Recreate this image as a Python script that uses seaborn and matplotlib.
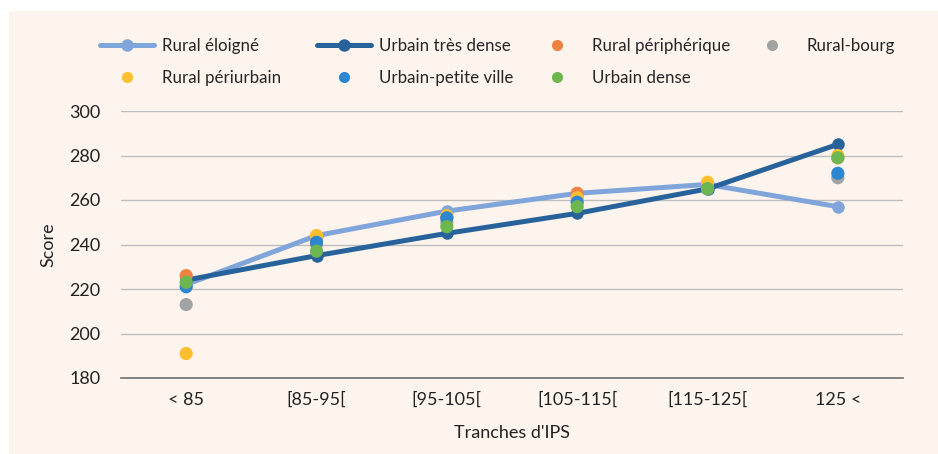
import pandas as pd
import seaborn as sns
import matplotlib.pyplot as plt
from matplotlib.patches import Rectangle
from matplotlib.lines import Line2D

# tranches d'IPS
tranches = ['< 85', '[85-95[', '[95-105[', '[105-115[', '[115-125[', '125 <']

# scores par type de territoire
rural_eloigne = [222, 244, 255, 263, 267, 257]
urbain_tres_dense = [224, 235, 245, 254, 265, 285]
rural_peripherique = [226, 241, 252, 263, 266, 279]
rural_bourg = [213, 240, 250, 261, 266, 270]
rural_periurbain = [191, 244, 253, 261, 268, 280]
urbain_petite_ville = [221, 241, 252, 259, 265, 272]
urbain_dense = [223, 237, 248, 257, 265, 279]

line_series = {'Rural éloigné': rural_eloigne, 'Urbain très dense': urbain_tres_dense}
point_series = {
    'Rural périphérique': rural_peripherique,
    'Rural-bourg': rural_bourg,
    'Rural périurbain': rural_periurbain,
    'Urbain-petite ville': urbain_petite_ville,
    'Urbain dense': urbain_dense,
}
colors = {
    'Rural éloigné': '#80A5DA',
    'Urbain très dense': '#27639A',
    'Rural périphérique': '#EF8240',
    'Rural-bourg': '#A3A3A3',
    'Rural périurbain': '#FDBF2D',
    'Urbain-petite ville': '#2C86D0',
    'Urbain dense': '#6DB650',
}

def to_long(series):
    rows = []
    for name, vals in series.items():
        for t, v in zip(tranches, vals):
            rows.append({'Tranche': t, 'Score': v, 'Territoire': name})
    return pd.DataFrame(rows)

lines_df = to_long(line_series)
points_df = to_long(point_series)

sns.set_style('white')
plt.rcParams['font.family'] = ['Lato', 'DejaVu Sans']
bg = '#FDF4EE'

fig = plt.figure(figsize=(9.38, 4.54), dpi=100, facecolor='white')
fig.patches.append(Rectangle((9 / 938, 0), 1, (454 - 11) / 454, transform=fig.transFigure,
                             facecolor=bg, edgecolor='none', zorder=-10))
ax = fig.add_axes([121 / 938, 1 - 378 / 454, (903 - 121) / 938, (378 - 111) / 454])
ax.set_facecolor(bg)

sns.lineplot(data=lines_df, x='Tranche', y='Score', hue='Territoire', palette=colors,
             linewidth=3.6, marker='o', markersize=9, markeredgewidth=0,
             sort=False, legend=False, ax=ax, zorder=2)
sns.scatterplot(data=points_df, x='Tranche', y='Score', hue='Territoire', palette=colors,
                s=90, linewidth=0, legend=False, ax=ax, zorder=3)

ax.set_xlim(-0.5, len(tranches) - 0.5)
ax.set_ylim(180, 300)
ax.set_yticks(range(180, 301, 20))
ax.grid(axis='y', color='#BDBDBD', linewidth=1)
ax.set_axisbelow(True)
for side in ['top', 'right', 'left']:
    ax.spines[side].set_visible(False)
ax.spines['bottom'].set_color('#7A7A7A')
ax.spines['bottom'].set_linewidth(1.3)
ax.tick_params(axis='y', length=0, pad=15, labelsize=13, labelcolor='#222222')
ax.tick_params(axis='x', length=0, pad=10, labelsize=13, labelcolor='#222222')
ax.set_xlabel("Tranches d'IPS", fontsize=13, color='#222222', labelpad=12)
ax.set_ylabel('Score', fontsize=13, color='#222222', labelpad=9)

def handle_for(name):
    if name in line_series:
        return Line2D([], [], color=colors[name], linewidth=3.6, marker='o', markersize=9,
                      markeredgewidth=0)
    return Line2D([], [], color=colors[name], linestyle='none', marker='o', markersize=8,
                  markeredgewidth=0)

# legend: four columns, each placed where the reference has it
legend_cols = [
    ['Rural éloigné', 'Rural périurbain'],
    ['Urbain très dense', 'Urbain-petite ville'],
    ['Rural périphérique', 'Urbain dense'],
    ['Rural-bourg'],
]
col_x = [100, 317, 530, 745]
for names, x in zip(legend_cols, col_x):
    fig.legend([handle_for(n) for n in names], names, loc='upper left',
               bbox_to_anchor=(x / 938, 1 - 38 / 454), frameon=False, fontsize=12.2,
               handlelength=3.2, handletextpad=0.45, labelspacing=0.95,
               borderaxespad=0, borderpad=0)

fig.savefig('out.png', dpi=100, facecolor='white')
